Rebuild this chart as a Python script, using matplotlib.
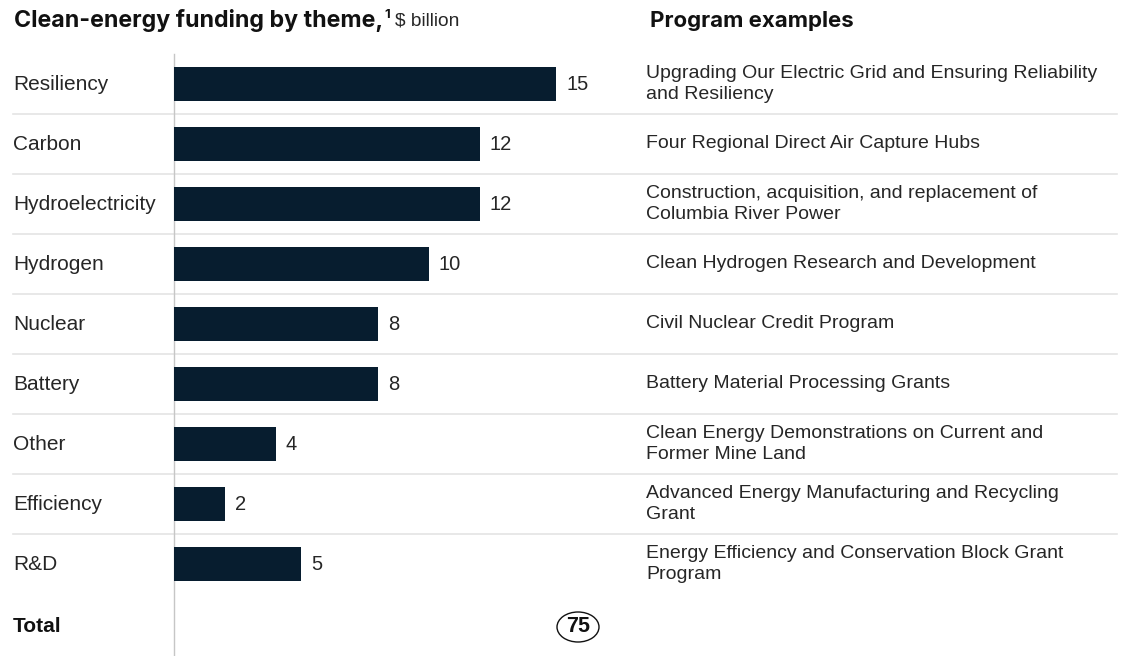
import matplotlib
matplotlib.use("Agg")
import matplotlib.pyplot as plt
from matplotlib.patches import Ellipse
from matplotlib.transforms import blended_transform_factory

# Funding by theme ($ billion) and one example program per theme
themes = ["Resiliency", "Carbon", "Hydroelectricity", "Hydrogen", "Nuclear",
          "Battery", "Other", "Efficiency", "R&D"]
funding = [15, 12, 12, 10, 8, 8, 4, 2, 5]
programs = [
    "Upgrading Our Electric Grid and Ensuring Reliability\nand Resiliency",
    "Four Regional Direct Air Capture Hubs",
    "Construction, acquisition, and replacement of\nColumbia River Power",
    "Clean Hydrogen Research and Development",
    "Civil Nuclear Credit Program",
    "Battery Material Processing Grants",
    "Clean Energy Demonstrations on Current and\nFormer Mine Land",
    "Advanced Energy Manufacturing and Recycling\nGrant",
    "Energy Efficiency and Conservation Block Grant\nProgram",
]
total_label = "Total"
total_value = 75

W, H = 1121, 656
BAR = "#071d2f"
TXT = "#262626"
DARK = "#111111"
GRID = "#e4e4e4"
FONT = "Liberation Sans"
HEAD = "Inter"
FS = 15.0

plt.rcParams["font.family"] = [FONT, "DejaVu Sans"]

fig = plt.figure(figsize=(W / 100, H / 100), dpi=100)

def fx(px):
    return px / W

def fy(px):
    return 1 - px / H

# Bar axes: left spine at x=174px, from y=54px to the bottom edge
ax_left, ax_right, ax_top, ax_bot = 174, 620, 54, 656
ax = fig.add_axes([fx(ax_left), fy(ax_bot), fx(ax_right - ax_left),
                   (ax_bot - ax_top) / H])
px_per_unit = 25.5
ax.set_xlim(0, (ax_right - ax_left) / px_per_unit)
row_px = 60
first_center = 84
ax.set_ylim((ax_bot - first_center) / row_px, -(first_center - ax_top) / row_px)

ypos = list(range(len(themes)))
ax.barh(ypos, funding, height=34 / row_px, color=BAR, zorder=3)

for s in ["top", "right", "bottom"]:
    ax.spines[s].set_visible(False)
ax.spines["left"].set_color("#c6c6c6")
ax.spines["left"].set_linewidth(1.0)
ax.set_xticks([])
ax.set_yticks([])
ax.patch.set_alpha(0)

# value labels at the bar ends
for y, v in zip(ypos, funding):
    ax.annotate(f"{v}", (v, y), xytext=(7, 0), textcoords="offset points",
                ha="left", va="center", fontsize=FS - 0.5, color=TXT)

# row separators across the full width, row labels and program names
tr = blended_transform_factory(fig.transFigure, ax.transData)
for i in range(len(themes) - 1):
    ax.plot([fx(13), fx(1117)], [i + 0.5, i + 0.5], transform=tr,
            color=GRID, lw=1.2, clip_on=False, zorder=1)

for y, name, prog in zip(ypos, themes, programs):
    ax.text(fx(13), y, name, transform=tr, ha="left", va="center",
            fontsize=FS, color=TXT)
    ax.text(fx(646), y, prog, transform=tr, ha="left", va="center",
            fontsize=14.0, color=TXT, linespacing=1.36)

# total row
total_y = (627 - first_center) / row_px
ax.text(fx(13), total_y, total_label, transform=tr, ha="left", va="center",
        fontsize=FS, color=DARK, fontweight="bold")
ex = 578 / W
ell = Ellipse((ex, total_y), width=42 / W, height=30 / row_px, transform=tr,
              facecolor="white", edgecolor=DARK, lw=1.0, clip_on=False,
              zorder=4)
ax.add_patch(ell)
ax.text(ex, total_y, f"{total_value}", transform=tr, ha="center", va="center",
        fontsize=FS + 0.5, color=DARK, fontweight="bold", zorder=5)

# headers
renderer = fig.canvas.get_renderer()
t1 = fig.text(fx(14), fy(21), "Clean-energy funding by theme,", ha="left",
              va="center", fontsize=16.7, fontweight="bold", color=DARK,
              family=[HEAD, "DejaVu Sans"])
bb = t1.get_window_extent(renderer)
t2 = fig.text(bb.x1 / W + fx(1), fy(15), "1", ha="left", va="center",
              fontsize=9.5, fontweight="bold", color=DARK,
              family=[HEAD, "DejaVu Sans"])
bb2 = t2.get_window_extent(renderer)
fig.text(bb2.x1 / W + fx(5), fy(21), "$ billion", ha="left", va="center",
         fontsize=13.8, color=TXT)
fig.text(fx(650), fy(21), "Program examples", ha="left", va="center",
         fontsize=16.0, fontweight="bold", color=DARK,
         family=[HEAD, "DejaVu Sans"])

fig.savefig("out.png", dpi=100)
